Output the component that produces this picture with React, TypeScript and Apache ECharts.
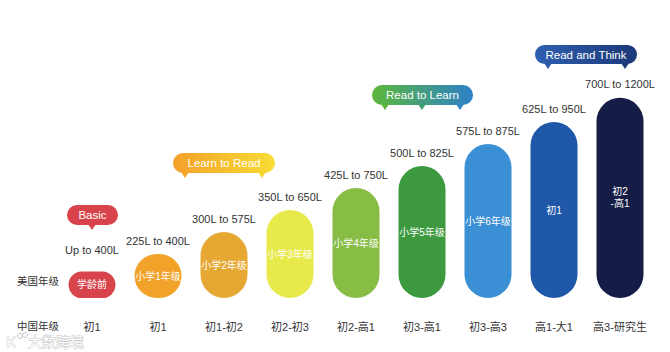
import React, { useEffect, useRef } from "react";
import * as echarts from "echarts";

const categories = ["初1", "初1", "初1-初2", "初2-初3", "初2-高1", "初3-高1", "初3-高3", "高1-大1", "高3-研究生"];
const usGrades = ["学龄前", "小学1年级", "小学2年级", "小学3年级", "小学4年级", "小学5年级", "小学6年级", "初1", "初2\n-高1"];
const lexileRanges = ["Up to 400L", "225L to 400L", "300L to 575L", "350L to 650L", "425L to 750L", "500L to 825L", "575L to 875L", "625L to 950L", "700L to 1200L"];
const pillHeights = [1.2, 2, 3, 4, 5, 6, 7, 8, 9.1];
const pillColors = ["#d7444b", "#f1a229", "#e6a832", "#e8ea4c", "#87bc45", "#3d9a40", "#3a8fd5", "#1f57a9", "#151c45"];
const stageBadges = ["Basic", "Learn to Read", "Read to Learn", "Read and Think"];

const FONT = "'Liberation Sans', 'Noto Sans CJK SC', sans-serif";

function bubble(text: string, x: number, y: number, w: number, h: number, fill: any, tails: { x: number; color: string }[]) {
  const children: any[] = [
    { type: "rect", shape: { x, y, width: w, height: h, r: h / 2 }, style: { fill } },
  ];
  tails.forEach((t) => {
    children.push({
      type: "polygon",
      shape: { points: [[t.x - 4, y + h - 1], [t.x + 4, y + h - 1], [t.x, y + h + 5]] },
      style: { fill: t.color },
    });
  });
  children.push({
    type: "text",
    x: x + w / 2,
    y: y + h / 2,
    style: { text, fill: "#fff", fontSize: 11.5, fontFamily: FONT, textAlign: "center", textVerticalAlign: "middle" },
  });
  return { type: "group", children };
}

export default function App() {
  const ref = useRef<HTMLDivElement>(null);
  useEffect(() => {
    const chart = echarts.init(ref.current!, undefined, { renderer: "svg" });
    const lin = (a: string, b: string) =>
      new echarts.graphic.LinearGradient(0, 0, 1, 0, [
        { offset: 0, color: a },
        { offset: 1, color: b },
      ]);
    chart.setOption({
      animation: false,
      backgroundColor: "#ffffff",
      grid: { left: 59, right: 17, top: 78, bottom: 54 },
      xAxis: {
        type: "category",
        data: categories,
        axisLine: { show: false },
        axisTick: { show: false },
        axisLabel: { color: "#333", fontSize: 11, margin: 23, fontFamily: FONT, interval: 0 },
      },
      yAxis: { type: "value", min: 0, max: 10, show: false, splitLine: { show: false } },
      series: [
        {
          type: "bar",
          barWidth: 47,
          data: pillHeights.map((v, i) => ({
            value: v,
            itemStyle: { color: pillColors[i], borderRadius: 24 },
          })),
          label: {
            show: true,
            position: "inside",
            color: "#fff",
            fontSize: 10,
            fontFamily: FONT,
            lineHeight: 12,
            formatter: (p: any) => usGrades[p.dataIndex],
          },
        },
        {
          type: "bar",
          barWidth: 47,
          barGap: "-100%",
          silent: true,
          data: pillHeights.map((v, i) => ({
            value: v,
            itemStyle: { color: "rgba(0,0,0,0)" },
            label: i === 0 ? { distance: 16 } : undefined,
          })),
          label: {
            show: true,
            position: "top",
            distance: 8,
            color: "#333",
            fontSize: 11,
            fontFamily: FONT,
            formatter: (p: any) => lexileRanges[p.dataIndex],
          },
        },
      ],
      graphic: [
        {
          type: "text",
          x: 38,
          y: 281,
          style: { text: "美国年级", fill: "#333", fontSize: 10.5, fontFamily: FONT, textAlign: "center", textVerticalAlign: "middle" },
        },
        {
          type: "text",
          x: 38,
          y: 326,
          style: { text: "中国年级", fill: "#333", fontSize: 10.5, fontFamily: FONT, textAlign: "center", textVerticalAlign: "middle" },
        },
        bubble(stageBadges[0], 67, 205, 51, 20, "#d9434b", [{ x: 92, color: "#d9434b" }]),
        bubble(stageBadges[1], 173, 153, 102, 20, lin("#f4a02a", "#f7dd36"), [
          { x: 185, color: "#f4a62c" },
          { x: 262, color: "#f7d634" },
        ]),
        bubble(stageBadges[2], 372, 85, 101, 20, lin("#5cb83a", "#2c80c8"), [
          { x: 385, color: "#58b53c" },
          { x: 422, color: "#3fa06e" },
          { x: 460, color: "#2f86c2" },
        ]),
        bubble(stageBadges[3], 535, 45, 102, 19, lin("#2e5fb0", "#1c3877"), [
          { x: 548, color: "#2c5bab" },
          { x: 625, color: "#1e3c7d" },
        ]),
        {
          type: "text",
          x: 28,
          y: 342,
          style: { text: "大数跨境", fill: "#ffffff", stroke: "#c4c4c4", lineWidth: 1, fontSize: 14, fontFamily: FONT, textAlign: "left", textVerticalAlign: "middle" },
        },
        {
          type: "text",
          x: 6,
          y: 341,
          style: { text: "K", fill: "#ffffff", stroke: "#c4c4c4", lineWidth: 1, fontSize: 15, fontFamily: FONT, textAlign: "left", textVerticalAlign: "middle" },
        },
        { type: "circle", shape: { cx: 20, cy: 336, r: 2.5 }, style: { fill: "#fff", stroke: "#c4c4c4", lineWidth: 1 } },
        { type: "circle", shape: { cx: 25, cy: 335, r: 2.5 }, style: { fill: "#fff", stroke: "#c4c4c4", lineWidth: 1 } },
      ],
    });
    return () => chart.dispose();
  }, []);
  return <div ref={ref} style={{ position: "fixed", left: 0, top: 0, width: 670, height: 352 }} />;
}
